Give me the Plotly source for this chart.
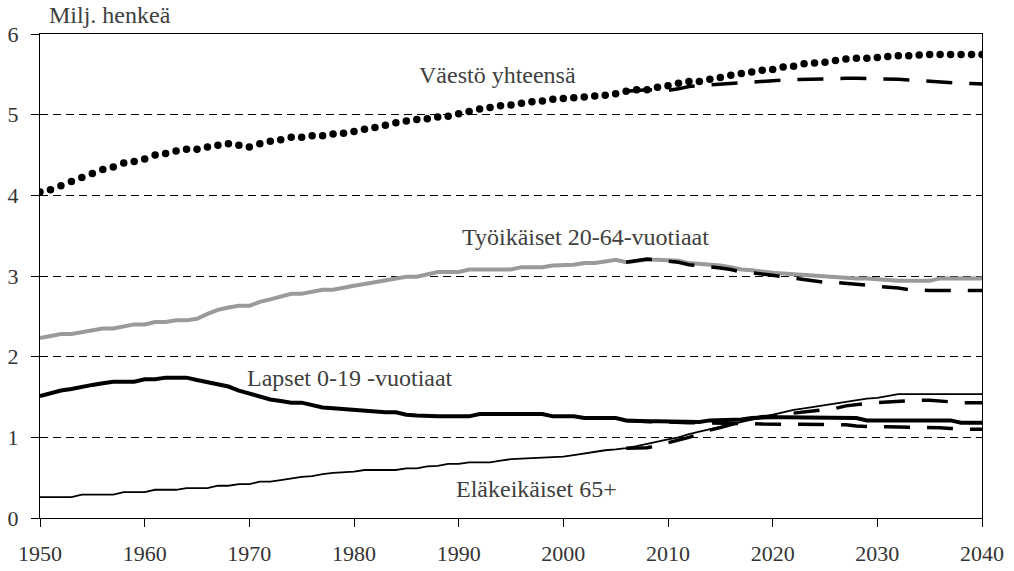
import plotly.graph_objects as go

years = list(range(1950, 2041))
proj_years = list(range(2006, 2041))

total = [4.04, 4.07, 4.12, 4.17, 4.22, 4.27, 4.32, 4.35, 4.40, 4.42,
         4.45, 4.50, 4.52, 4.55, 4.57, 4.57, 4.60, 4.62, 4.64, 4.62,
         4.60, 4.64, 4.67, 4.69, 4.72, 4.72, 4.74, 4.74, 4.76, 4.77,
         4.79, 4.82, 4.84, 4.87, 4.90, 4.92, 4.94, 4.95, 4.97, 4.98,
         5.01, 5.04, 5.07, 5.09, 5.11, 5.12, 5.14, 5.16, 5.17, 5.19,
         5.20, 5.21, 5.22, 5.23, 5.24, 5.26, 5.29, 5.31, 5.31, 5.34,
         5.36, 5.39, 5.41, 5.41, 5.44, 5.46, 5.49, 5.51, 5.53, 5.55,
         5.56, 5.59, 5.60, 5.63, 5.64, 5.65, 5.67, 5.69, 5.70, 5.70,
         5.71, 5.72, 5.73, 5.73, 5.74, 5.745, 5.745, 5.745, 5.745, 5.745,
         5.745]

total_alt = [5.29, 5.30, 5.31, 5.30, 5.30, 5.32, 5.35, 5.36, 5.37, 5.38,
             5.385, 5.39, 5.40, 5.41, 5.42, 5.43, 5.435, 5.44, 5.445, 5.45,
             5.45, 5.45, 5.45, 5.45, 5.45, 5.45, 5.44, 5.43, 5.42, 5.42,
             5.41, 5.40, 5.39, 5.385, 5.38]

working = [2.23, 2.25, 2.28, 2.28, 2.30, 2.33, 2.35, 2.35, 2.38, 2.40,
           2.40, 2.43, 2.43, 2.45, 2.45, 2.47, 2.53, 2.58, 2.61, 2.63,
           2.63, 2.68, 2.71, 2.74, 2.78, 2.78, 2.80, 2.83, 2.83, 2.86,
           2.88, 2.90, 2.92, 2.94, 2.97, 2.99, 2.99, 3.02, 3.05, 3.05,
           3.05, 3.08, 3.08, 3.08, 3.08, 3.08, 3.11, 3.11, 3.11, 3.13,
           3.13, 3.14, 3.16, 3.16, 3.18, 3.20, 3.17, 3.19, 3.20, 3.20,
           3.20, 3.19, 3.16, 3.15, 3.15, 3.13, 3.11, 3.08, 3.07, 3.05,
           3.04, 3.03, 3.02, 3.02, 3.00, 2.99, 2.98, 2.97, 2.97, 2.97,
           2.96, 2.94, 2.94, 2.94, 2.94, 2.94, 2.97, 2.97, 2.97, 2.97,
           2.97]

working_alt = [3.17, 3.19, 3.21, 3.20, 3.19, 3.17, 3.14, 3.13, 3.12, 3.10,
               3.08, 3.05, 3.04, 3.03, 3.01, 2.99, 2.97, 2.95, 2.93, 2.92,
               2.92, 2.91, 2.90, 2.88, 2.87, 2.86, 2.85, 2.83, 2.82, 2.82,
               2.82, 2.82, 2.82, 2.82, 2.82]

children = [1.51, 1.55, 1.58, 1.60, 1.63, 1.65, 1.67, 1.69, 1.69, 1.69,
            1.72, 1.72, 1.74, 1.74, 1.74, 1.71, 1.68, 1.66, 1.63, 1.58,
            1.54, 1.50, 1.47, 1.45, 1.43, 1.43, 1.40, 1.37, 1.36, 1.35,
            1.33, 1.33, 1.31, 1.31, 1.31, 1.28, 1.27, 1.26, 1.26, 1.26,
            1.26, 1.26, 1.29, 1.29, 1.29, 1.29, 1.29, 1.29, 1.29, 1.26,
            1.26, 1.26, 1.24, 1.24, 1.24, 1.24, 1.21, 1.20, 1.20, 1.20,
            1.20, 1.20, 1.20, 1.19, 1.21, 1.21, 1.22, 1.22, 1.24, 1.25,
            1.25, 1.25, 1.25, 1.25, 1.25, 1.25, 1.25, 1.25, 1.24, 1.21,
            1.21, 1.21, 1.21, 1.21, 1.21, 1.21, 1.21, 1.21, 1.18, 1.18,
            1.18]

children_alt = [1.21, 1.20, 1.20, 1.19, 1.19, 1.18, 1.18, 1.18, 1.18, 1.18,
                1.18, 1.18, 1.17, 1.165, 1.165, 1.165, 1.165, 1.16, 1.16, 1.16,
                1.16, 1.155, 1.14, 1.13, 1.13, 1.13, 1.13, 1.13, 1.13, 1.12,
                1.12, 1.11, 1.10, 1.10, 1.10]

elderly = [0.26, 0.26, 0.26, 0.26, 0.29, 0.29, 0.29, 0.29, 0.32, 0.32,
           0.32, 0.35, 0.35, 0.35, 0.37, 0.37, 0.37, 0.40, 0.40, 0.42,
           0.42, 0.45, 0.45, 0.47, 0.49, 0.51, 0.52, 0.545, 0.56, 0.57,
           0.575, 0.595, 0.595, 0.595, 0.595, 0.615, 0.615, 0.64, 0.645, 0.67,
           0.67, 0.69, 0.69, 0.69, 0.71, 0.73, 0.735, 0.74, 0.75, 0.755,
           0.76, 0.78, 0.80, 0.82, 0.84, 0.85, 0.865, 0.89, 0.92, 0.95,
           0.975, 1.00, 1.04, 1.07, 1.10, 1.13, 1.16, 1.19, 1.22, 1.25,
           1.28, 1.31, 1.34, 1.36, 1.38, 1.40, 1.42, 1.44, 1.46, 1.48,
           1.49, 1.51, 1.535, 1.535, 1.535, 1.535, 1.535, 1.535, 1.535, 1.535,
           1.535]

elderly_alt = [0.865, 0.865, 0.87, 0.90, 0.93, 0.96, 1.00, 1.04, 1.09, 1.12,
               1.16, 1.19, 1.23, 1.255, 1.265, 1.275, 1.30, 1.315, 1.325, 1.335,
               1.36, 1.39, 1.41, 1.42, 1.43, 1.44, 1.45, 1.455, 1.46, 1.46,
               1.455, 1.44, 1.43, 1.43, 1.43]

labels = {
    "total": ("Väestö yhteensä", 1993.7, 5.49),
    "working": ("Työikäiset 20-64-vuotiaat", 2002.1, 3.48),
    "children": ("Lapset 0-19 -vuotiaat", 1979.6, 1.73),
    "elderly": ("Eläkeikäiset 65+", 1997.4, 0.36),
}

FONT = "'Liberation Serif', 'Times New Roman', Times, 'DejaVu Serif', serif"
DASH = "26px,17px"

W, H = 1014, 571
PL, PT, PR, PB = 40, 34, 982, 518   # plot-area edges in figure pixels

fig = go.Figure()
fig.add_trace(go.Scatter(x=years, y=working, mode="lines",
                         line=dict(color="#9a9a9a", width=4)))
fig.add_trace(go.Scatter(x=years, y=children, mode="lines",
                         line=dict(color="black", width=4)))
fig.add_trace(go.Scatter(x=years, y=elderly, mode="lines",
                         line=dict(color="black", width=1.8)))
for alt in (working_alt, children_alt, elderly_alt, total_alt):
    fig.add_trace(go.Scatter(x=proj_years, y=alt, mode="lines",
                             line=dict(color="black", width=3.5, dash=DASH)))
fig.add_trace(go.Scatter(x=years, y=total, mode="markers",
                         marker=dict(color="black", size=7.5, line=dict(width=0))))

for text, xv, yv in labels.values():
    fig.add_annotation(x=xv, y=yv, text=text, showarrow=False,
                       xanchor="center", yanchor="middle",
                       font=dict(family=FONT, size=24, color="#404040"))

fig.add_annotation(x=0.007, y=1.039, xref="paper", yref="paper",
                   text="Milj. henkeä", showarrow=False,
                   xanchor="left", yanchor="middle",
                   font=dict(family=FONT, size=24, color="#404040"))

fig.update_layout(
    width=W, height=H,
    margin=dict(l=PL, r=W - PR, t=PT, b=H - PB, autoexpand=False),
    paper_bgcolor="white", plot_bgcolor="white",
    showlegend=False,
    font=dict(family=FONT, size=22, color="#333333"),
)
fig.update_xaxes(range=[1950, 2040], tickmode="array",
                 tickvals=list(range(1950, 2041, 10)),
                 ticks="outside", ticklen=8, tickcolor="black", tickwidth=1,
                 showline=True, linecolor="black", linewidth=1, mirror=True,
                 showgrid=False, zeroline=False, ticklabelstandoff=8,
                 automargin=False,
                 tickfont=dict(family=FONT, size=22, color="#333333"))
fig.update_yaxes(range=[0, 6], tickmode="array", tickvals=list(range(0, 7)),
                 ticks="outside", ticklen=8, tickcolor="black", tickwidth=1,
                 showline=True, linecolor="black", linewidth=1, mirror=True,
                 showgrid=True, gridcolor="black", gridwidth=1, griddash="8px,5px",
                 zeroline=False, ticklabelstandoff=8, automargin=False,
                 tickfont=dict(family=FONT, size=22, color="#333333"))

fig.write_html("out.html",
               config={"displayModeBar": False, "staticPlot": True},
               post_script="document.body.style.margin='0';document.body.style.overflow='hidden';")
